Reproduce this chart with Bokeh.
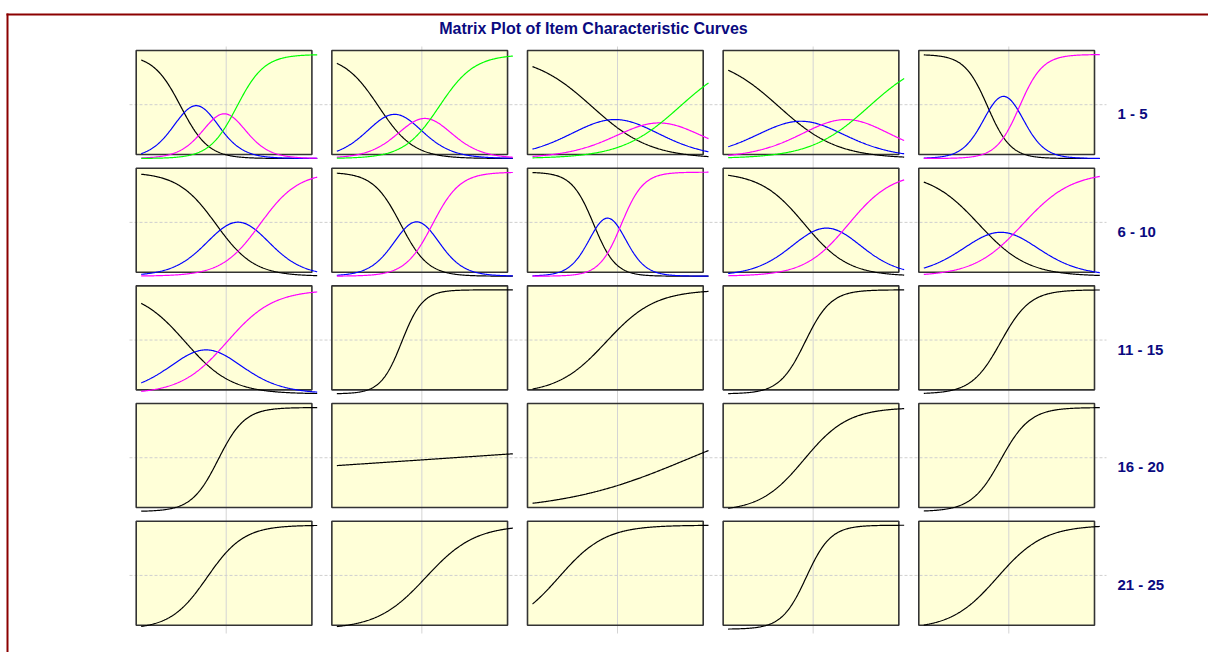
import numpy as np
from bokeh.plotting import figure
from bokeh.models import Range1d, Label
from bokeh.embed import file_html
from bokeh.resources import INLINE

# ---------------- data (item parameters) ----------------
# graded-response items: one slope and several category thresholds;
# dichotomous items: one slope and one difficulty
item_numbers = list(range(1, 26))
item_slopes = [1.6, 1.25, 0.75, 0.75, 1.9,
               1.15, 1.6, 2.0, 1.0, 0.9,
               0.95, 2.1, 0.9, 1.7, 1.5,
               1.65, 0.057, 0.35, 1.0, 1.5,
               1.2, 0.9, 0.95, 1.8, 0.95]
item_thresholds = [[-2.2, -0.8, 0.35], [-2.1, -0.65, 0.65], [-1.3, 0.8, 2.7], [-1.7, 0.3, 2.4], [-1.1, 0.35],
                   [-0.6, 1.4], [-1.1, 0.35], [-1.22, 0.04], [-0.53, 1.47], [-1.5, 0.5],
                   [-2.0, -0.1], [-1.05], [-0.65], [-0.5], [-0.5],
                   [-0.5], [0.1], [3.0], [-0.55], [-0.5],
                   [-1.0], [0.05], [-2.8], [-0.45], [-0.65]]
row_labels = ["1 - 5", "6 - 10", "11 - 15", "16 - 20", "21 - 25"]
category_colors = ["#000000", "#0000FF", "#FF00FF", "#00FF00"]
theta_min, theta_max = -4.0, 4.0
title_text = "Matrix Plot of Item Characteristic Curves"

# ---------------- layout (page pixels) ----------------
W, H = 1208, 652
OX, OY = 0, 0
n_cols, n_rows = 5, 5
col_left = [135.7 + 195.65 * i for i in range(n_cols)]
row_top = [50.0 + 117.68 * j for j in range(n_rows)]
box_w, box_h = 175.7, 104.0
curve_dx, curve_dy = 5.0, 4.0
curve_w, curve_h = 176.0, 104.0
vgrid_off, hgrid_off = 90.0, 54.2
navy = "#0A0A80"

p = figure(width=W, height=H, x_range=Range1d(OX, OX + W), y_range=Range1d(OY + H, OY),
           output_backend="svg", toolbar_location=None, min_border=0,
           x_axis_location=None, y_axis_location=None)
for g in p.grid:
    g.visible = False
p.outline_line_color = None
p.background_fill_color = "white"
p.border_fill_color = "white"

# scales for each panel column / row
sx = (theta_max - theta_min) / curve_w
xr = {}
for i in range(n_cols):
    a0 = col_left[i] + curve_dx
    xr["c%d" % i] = Range1d(theta_min - (a0 - OX) * sx, theta_min + (OX + W - a0) * sx)
yr = {}
for j in range(n_rows):
    c0 = row_top[j] + curve_dy + curve_h
    yr["r%d" % j] = Range1d(-(OY + H - c0) / curve_h, (c0 - OY) / curve_h)
p.extra_x_ranges = xr
p.extra_y_ranges = yr

# outer frame (dark red)
p.segment(x0=[6], y0=[14], x1=[OX + W], y1=[14], line_color="#8B0000", line_width=2)
p.segment(x0=[7], y0=[13], x1=[7], y1=[OY + H], line_color="#8B0000", line_width=2)

# panel backgrounds
L, R, T, B = [], [], [], []
for j in range(n_rows):
    for i in range(n_cols):
        L.append(col_left[i]); R.append(col_left[i] + box_w)
        T.append(row_top[j]); B.append(row_top[j] + box_h)
p.quad(left=L, right=R, top=T, bottom=B, fill_color="#FFFFD8", line_color=None)

# grid lines
vx = [c + vgrid_off for c in col_left]
p.segment(x0=vx, y0=[46] * n_cols, x1=vx, y1=[633] * n_cols, line_color="#D4D4D4", line_width=1)
hy = [r + hgrid_off for r in row_top]
p.segment(x0=[129] * n_rows, y0=hy, x1=[1106] * n_rows, y1=hy, line_color="#CFCFCF",
          line_width=1, line_dash="3 2")

# panel outlines
p.quad(left=L, right=R, top=T, bottom=B, fill_color=None, line_color="#333333", line_width=1.6)

# curves
theta = np.linspace(theta_min, theta_max, 241)
for k in range(len(item_numbers)):
    j, i = divmod(k, n_cols)
    a = item_slopes[k]
    b = item_thresholds[k]
    cum = [1.0 / (1.0 + np.exp(-a * (theta - bk))) for bk in b]
    if len(b) == 1:
        curves = [cum[0]]
    else:
        full = [np.ones_like(theta)] + cum + [np.zeros_like(theta)]
        curves = [full[m] - full[m + 1] for m in range(len(b) + 1)]
    for m, yv in enumerate(curves):
        p.line(theta, yv, x_range_name="c%d" % i, y_range_name="r%d" % j,
               line_color=category_colors[m], line_width=1.2)

# texts
p.add_layout(Label(x=593, y=28, text=title_text, text_align="center", text_baseline="middle",
                   text_font="Liberation Sans", text_font_style="bold", text_font_size="16px",
                   text_color=navy))
for j in range(n_rows):
    p.add_layout(Label(x=1117, y=row_top[j] + hgrid_off + 9, text=row_labels[j],
                       text_align="left", text_baseline="middle",
                       text_font="Liberation Sans", text_font_style="bold",
                       text_font_size="15px", text_color=navy))

open("out.html", "w").write(file_html(p, INLINE))
